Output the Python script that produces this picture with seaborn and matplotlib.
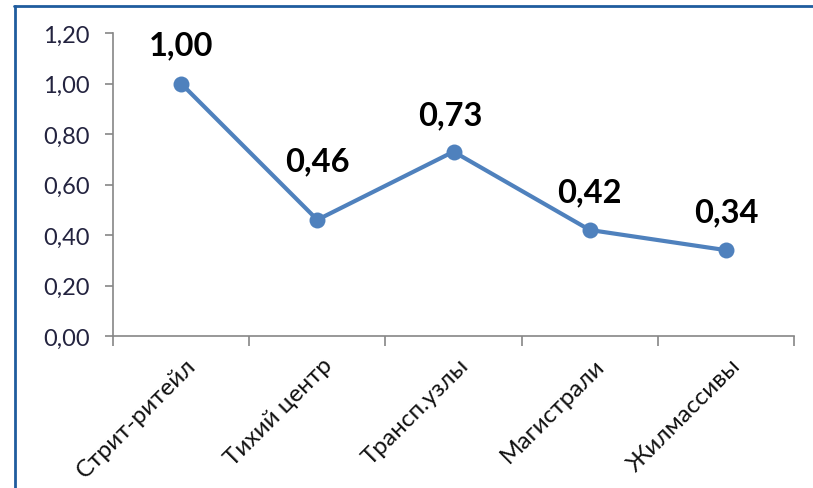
import matplotlib
matplotlib.use("Agg")
import matplotlib.pyplot as plt
import matplotlib.ticker as mticker
from matplotlib.lines import Line2D
from matplotlib.transforms import ScaledTranslation
import seaborn as sns
import pandas as pd

# Relative index by location type
categories = ["Стрит-ритейл", "Тихий центр", "Трансп.узлы", "Магистрали", "Жилмассивы"]
values = [1.00, 0.46, 0.73, 0.42, 0.34]
y_ticks = [0.0, 0.2, 0.4, 0.6, 0.8, 1.0, 1.2]

df = pd.DataFrame({"category": categories, "value": values})

sns.set_theme(style="white")
plt.rcParams["font.family"] = ["Lato", "DejaVu Sans"]

DPI = 100
fig = plt.figure(figsize=(8.13, 4.89), dpi=DPI)
fig.patch.set_facecolor("white")
ax = fig.add_axes([113 / 813, 1 - 337 / 489, (794 - 113) / 813, (337 - 34) / 489])

line_color = "#4F81BD"
axis_color = "#868686"

sns.lineplot(data=df, x="category", y="value", ax=ax, color=line_color,
             linewidth=3.0, marker="o", markersize=11.5, markeredgewidth=0,
             sort=False)

ax.set_xlim(-0.5, len(categories) - 0.5)
ax.set_ylim(0, 1.2)
ax.set_xlabel("")
ax.set_ylabel("")

# Spines: only left and bottom, grey
for side in ["top", "right"]:
    ax.spines[side].set_visible(False)
for side in ["left", "bottom"]:
    ax.spines[side].set_color(axis_color)
    ax.spines[side].set_linewidth(1.2)

# Y axis
ax.set_yticks(y_ticks)
ax.yaxis.set_major_formatter(mticker.FuncFormatter(lambda v, p: f"{v:.2f}".replace(".", ",")))
ax.tick_params(axis="y", which="major", direction="out", length=6, width=1.2,
               color=axis_color, labelcolor="#23233f", labelsize=17, pad=11, left=True)

# X axis: labels at category centres, tick marks at the boundaries
ax.set_xticks(range(len(categories)))
ax.set_xticklabels(categories)
ax.set_xticks([i - 0.5 for i in range(len(categories) + 1)], minor=True)
ax.tick_params(axis="x", which="major", length=0, labelsize=17.5, labelcolor="#111111", pad=13)
ax.tick_params(axis="x", which="minor", direction="out", length=7, width=1.2,
               color=axis_color, bottom=True)
shift = ScaledTranslation(4 / DPI, 0, fig.dpi_scale_trans)
for lab in ax.get_xticklabels():
    lab.set_rotation(45)
    lab.set_ha("right")
    lab.set_va("top")
    lab.set_rotation_mode("anchor")
    lab.set_transform(lab.get_transform() + shift)

ax.grid(False)

# Value labels above the points
label_dy = [21, 36, 19.5, 20.5, 21]
label_dx = [0, 0, -2, 0, 0]
for i, (v, dy, dx) in enumerate(zip(values, label_dy, label_dx)):
    ax.annotate(f"{v:.2f}".replace(".", ","), xy=(i, v), xytext=(dx, dy),
                textcoords="offset points", ha="center", va="baseline",
                fontsize=23.5, fontweight="bold", color="#000000")

# Chart frame edges
frame_color = "#1F5C9E"
fig.add_artist(Line2D([14 / 813, 1.0], [1 - 6.5 / 489, 1 - 6.5 / 489],
                      transform=fig.transFigure, color=frame_color, linewidth=2))
fig.add_artist(Line2D([14.5 / 813, 14.5 / 813], [0, 1 - 6.5 / 489],
                      transform=fig.transFigure, color=frame_color, linewidth=2))

fig.savefig("out.png", dpi=DPI, facecolor="white")
